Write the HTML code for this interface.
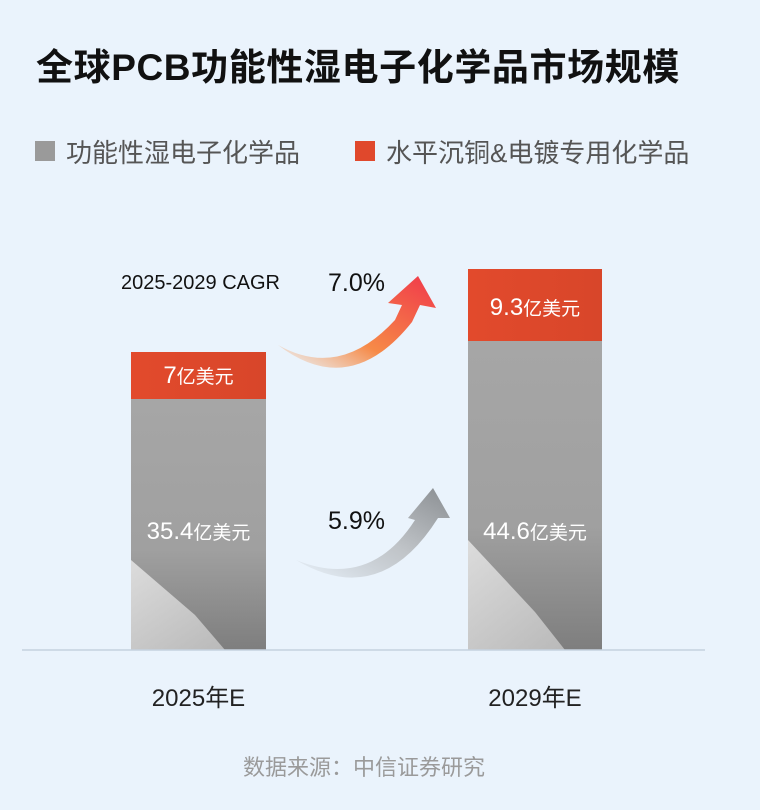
<!DOCTYPE html>
<html><head><meta charset="utf-8"><style>
body{margin:0;width:760px;height:810px;background:#eaf3fc;font-family:"Liberation Sans","Noto Sans CJK SC",sans-serif;position:relative;overflow:hidden}
.a{position:absolute;white-space:nowrap}
</style></head><body>
<div class="a" style="left:36px;top:37px;font-size:37px;font-weight:bold;color:#111;letter-spacing:0.6px">全球PCB功能性湿电子化学品市场规模</div>
<div class="a" style="left:35px;top:141px;width:20px;height:20px;background:#9a9a9a"></div>
<div class="a" style="left:66px;top:133px;font-size:26px;color:#555">功能性湿电子化学品</div>
<div class="a" style="left:355px;top:141px;width:20px;height:20px;background:#e0482c"></div>
<div class="a" style="left:386px;top:133px;font-size:26px;color:#555">水平沉铜&amp;电镀专用化学品</div>
<svg class="a" style="left:0;top:0" width="760" height="810">
<defs>
<linearGradient id="g" x1="0" y1="0" x2="0" y2="1"><stop offset="0" stop-color="#a6a6a6"/><stop offset="0.6" stop-color="#a0a0a0"/><stop offset="1" stop-color="#7e7e7e"/></linearGradient>
<linearGradient id="r" x1="0" y1="0" x2="1" y2="0"><stop offset="0" stop-color="#e24a2c"/><stop offset="1" stop-color="#d8462a"/></linearGradient>
<linearGradient id="ao" x1="0" y1="1" x2="1" y2="0"><stop offset="0" stop-color="#f6a060" stop-opacity="0"/><stop offset="0.4" stop-color="#f68a48"/><stop offset="1" stop-color="#f0384a"/></linearGradient>
<linearGradient id="ag" x1="0" y1="1" x2="1" y2="0"><stop offset="0" stop-color="#b0b4b8" stop-opacity="0"/><stop offset="0.5" stop-color="#c0c4c8"/><stop offset="1" stop-color="#8a8e92"/></linearGradient>
<linearGradient id="w" x1="0" y1="0" x2="1" y2="1"><stop offset="0" stop-color="#ececec"/><stop offset="1" stop-color="#c8c8c8"/></linearGradient>
</defs>
<rect x="131" y="399" width="135" height="251" fill="url(#g)"/>
<polygon points="131,560 195,615 225,650 131,650" fill="url(#w)" opacity="0.8"/>
<rect x="131" y="352" width="135" height="47" fill="url(#r)"/>
<rect x="468" y="341" width="134" height="309" fill="url(#g)"/>
<polygon points="468,540 535,612 565,650 468,650" fill="url(#w)" opacity="0.8"/>
<rect x="468" y="269" width="134" height="72" fill="url(#r)"/>
<line x1="22" y1="650" x2="705" y2="650" stroke="#c5d2df" stroke-width="1.5"/>
<path d="M278,345 Q340,380 395,320 L402,305 L388,303 L418,276 L436,308 L420,305 L412,322 Q350,400 278,345 Z" fill="url(#ao)"/>
<path d="M296,560 Q370,590 415,520 L408,518 L433,488 L450,518 L438,518 Q380,610 296,560 Z" fill="url(#ag)"/>
</svg>
<div class="a" style="left:121px;top:272px;font-size:20px;color:#111">2025-2029 CAGR</div>
<div class="a" style="left:328px;top:269px;font-size:25px;color:#111">7.0%</div>
<div class="a" style="left:328px;top:507px;font-size:25px;color:#111">5.9%</div>
<div class="a" style="left:131px;width:135px;top:362px;text-align:center;font-size:24px;color:#fff">7<span style="font-size:19px">亿美元</span></div>
<div class="a" style="left:468px;width:134px;top:294px;text-align:center;font-size:24px;color:#fff">9.3<span style="font-size:19px">亿美元</span></div>
<div class="a" style="left:131px;width:135px;top:518px;text-align:center;font-size:24px;color:#fff">35.4<span style="font-size:19px">亿美元</span></div>
<div class="a" style="left:468px;width:134px;top:518px;text-align:center;font-size:24px;color:#fff">44.6<span style="font-size:19px">亿美元</span></div>
<div class="a" style="left:131px;width:135px;top:678px;text-align:center;font-size:24px;color:#222">2025年E</div>
<div class="a" style="left:468px;width:134px;top:678px;text-align:center;font-size:24px;color:#222">2029年E</div>
<div class="a" style="left:0;width:728px;top:750px;text-align:center;font-size:22px;color:#9a9a9a">数据来源：中信证券研究</div>
</body></html>
